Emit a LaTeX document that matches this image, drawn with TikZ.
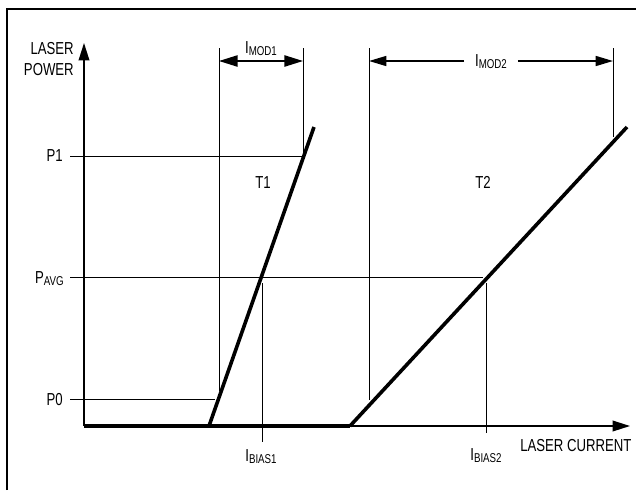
\documentclass[tikz,border=0pt]{standalone}
\usepackage{fontspec}
\setmainfont{Liberation Sans}[FakeStretch=0.76]
\usetikzlibrary{arrows.meta}
\newcommand\lsub[1]{\raisebox{-2.2pt}{\fontsize{9.6}{10}\selectfont #1}}
\begin{document}
\begin{tikzpicture}[x=0.75pt,y=-0.75pt,
  font=\fontsize{13}{14}\selectfont,
  frame/.style={line width=2.2pt},
  axisline/.style={line width=1.1pt},
  thin/.style={line width=0.65pt},
  curve/.style={line width=2.7pt},
  bigtip/.style={-{Triangle[length=13pt,width=8pt]}},
  dimtip/.style={{Triangle[length=14pt,width=8.5pt]}-{Triangle[length=14pt,width=8.5pt]}},
  onetip/.style={-{Triangle[length=13pt,width=7.5pt]}},
  lbl/.style={inner sep=0pt}]
\useasboundingbox (0,0) rectangle (636,490);
% frame (top and left only)
\coordinate (FB) at (7,490);
\coordinate (FC) at (7,9);
\coordinate (FR) at (636,9);
\draw[frame] (FB) -- (FC) -- (FR);
% axes
\coordinate (O) at (84,426);
\coordinate (Ytip) at (84,43);
\coordinate (K1) at (350,426);
\coordinate (Xtip) at (630,426);
\draw[axisline,bigtip] (O) -- (Ytip);
\draw[axisline,bigtip] (K1) -- (Xtip);
% level lines
\coordinate (P1a) at (70,156);  \coordinate (P1b) at (303,156);
\coordinate (PAa) at (70,277);  \coordinate (PAb) at (483,277);
\coordinate (P0a) at (70,399);  \coordinate (P0b) at (215,399);
\draw[thin] (P1a) -- (P1b);
\draw[thin] (PAa) -- (PAb);
\draw[thin] (P0a) -- (P0b);
% IMOD1 extension lines
\coordinate (M1at) at (219,48); \coordinate (M1ab) at (219,391);
\coordinate (M1bt) at (303,48); \coordinate (M1bb) at (303,152);
\draw[thin] (M1at) -- (M1ab);
\draw[thin] (M1bt) -- (M1bb);
\coordinate (M1l) at (219,61); \coordinate (M1r) at (303,61);
\draw[axisline,dimtip] (M1l) -- (M1r);
% IMOD2 extension lines
\coordinate (M2at) at (369,48); \coordinate (M2ab) at (369,400);
\coordinate (M2bt) at (613,48); \coordinate (M2bb) at (613,137);
\draw[thin] (M2at) -- (M2ab);
\draw[thin] (M2bt) -- (M2bb);
\coordinate (M2l) at (369,61); \coordinate (M2r) at (613,61);
% IBIAS lines
\coordinate (B1t) at (262,283); \coordinate (B1b) at (262,442);
\coordinate (B2t) at (486,283); \coordinate (B2b) at (486,433);
\draw[thin] (B1t) -- (B1b);
\draw[thin] (B2t) -- (B2b);
% characteristic curves
\coordinate (A0) at (209,426); \coordinate (A1) at (314,127);
\coordinate (C1) at (627,127);
\draw[curve] (O) -- (K1);
\draw[curve] (A0) -- (A1);
\draw[curve] (K1) -- (C1);
% labels
\node[lbl,anchor=base east] (lp1) at (74,54) {LASER};
\node[lbl,anchor=base east] (lp2) at (74,75) {POWER};
\node[lbl,anchor=base east] (p1) at (63,161) {P1};
\node[lbl,anchor=base east] (pavg) at (64,283) {P\lsub{AVG}};
\node[lbl,anchor=base east] (p0) at (63,405) {P0};
\node[lbl,anchor=base] (ib1) at (261,461) {I\lsub{BIAS1}};
\node[lbl,anchor=base] (ib2) at (486,460) {I\lsub{BIAS2}};
\node[lbl,anchor=base west] (lc) at (520,451) {LASER CURRENT};
\node[lbl,anchor=base] (t1) at (263,188) {T1};
\node[lbl,anchor=base] (t2) at (483,188) {T2};
\node[lbl,anchor=base] (im1) at (261,53) {I\lsub{MOD1}};
\node[lbl,anchor=base,inner xsep=8pt] (im2) at (491,66) {I\lsub{MOD2}};
\draw[axisline,onetip] (im2.west |- M2l) -- (M2l);
\draw[axisline,onetip] (im2.east |- M2r) -- (M2r);
\end{tikzpicture}
\end{document}
